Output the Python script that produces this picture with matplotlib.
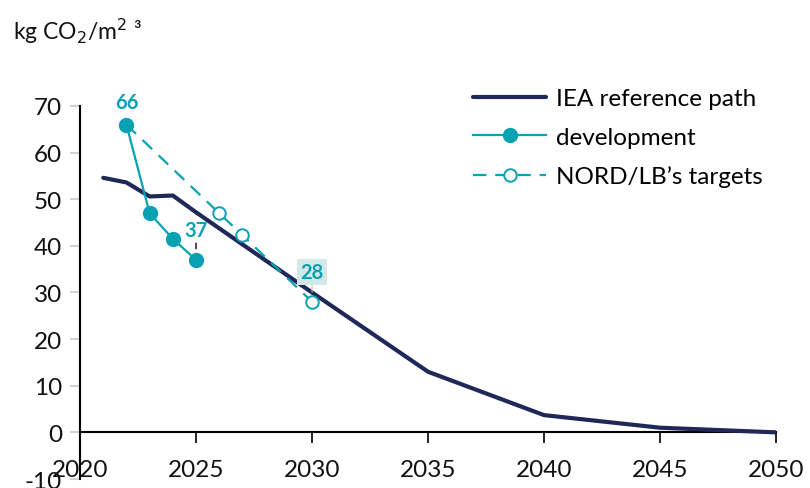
"""
NORD/LB emissions intensity vs. IEA reference path
"""
import matplotlib
matplotlib.use('Agg')
import matplotlib.pyplot as plt

plt.rcParams['font.family'] = ['Lato', 'DejaVu Sans']
plt.rcParams['axes.unicode_minus'] = False

NAVY = '#1f2858'
TEAL = '#0aa1b3'

# IEA reference path
iea_years = [2021, 2022, 2023, 2024, 2025, 2030, 2035, 2040, 2045, 2050]
iea_values = [54.6, 53.6, 50.6, 50.8, 47.2, 30.0, 13.0, 3.7, 1.0, 0.0]

# actual development
dev_years = [2022, 2023, 2024, 2025]
dev_values = [66, 47, 41.5, 37]

# NORD/LB's targets
target_years = [2022, 2026, 2027, 2030]
target_values = [66, 47, 42.3, 28]

x_ticks = [2020, 2025, 2030, 2035, 2040, 2045, 2050]
y_ticks = [-10, 0, 10, 20, 30, 40, 50, 60, 70]


def main():
    fig = plt.figure(figsize=(8.1, 4.89), dpi=100)
    ax = fig.add_axes([0.0988, 0.0184, 0.8593, 0.7628])

    ax.plot(iea_years, iea_values, color=NAVY, lw=3.0,
            solid_capstyle='round', solid_joinstyle='round',
            label='IEA reference path', zorder=3)
    ax.plot(target_years, target_values, color=TEAL, lw=1.6,
            dashes=(6, 4), marker='o', markersize=9,
            markerfacecolor='white', markeredgecolor=TEAL, markeredgewidth=1.4,
            label='NORD/LB\u2019s targets', zorder=4)
    ax.plot(dev_years, dev_values, color=TEAL, lw=1.6, marker='o',
            markersize=10, markerfacecolor=TEAL, markeredgecolor=TEAL,
            label='development', zorder=5)

    # data labels
    ax.annotate(f'{dev_values[0]:.0f}', (dev_years[0], dev_values[0]),
                xytext=(0, 9), textcoords='offset points', ha='center',
                va='bottom', color=TEAL, fontsize=14.5, fontweight='bold')
    ax.annotate(f'{dev_values[-1]:.0f}', (dev_years[-1], dev_values[-1]),
                xytext=(0, 14), textcoords='offset points', ha='center',
                va='bottom', color=TEAL, fontsize=14.5, fontweight='bold',
                arrowprops=dict(arrowstyle='-', color='black', lw=1.0,
                                shrinkA=0, shrinkB=8))
    ax.annotate(f'{target_values[-1]:.0f}', (target_years[-1], target_values[-1]),
                xytext=(0, 14), textcoords='offset points', ha='center',
                va='bottom', color=TEAL, fontsize=14.5, fontweight='bold',
                bbox=dict(boxstyle='square,pad=0.15', fc='#d3e9e7', ec='none'),
                arrowprops=dict(arrowstyle='-', color='#bbbbbb', lw=0.8,
                                shrinkA=0, shrinkB=7))

    ax.set_xlim(2020, 2050)
    ax.set_ylim(-10, 70)
    ax.set_xticks(x_ticks)
    ax.set_yticks(y_ticks)

    ax.spines['top'].set_visible(False)
    ax.spines['right'].set_visible(False)
    ax.spines['bottom'].set_position(('data', 0))
    ax.spines['bottom'].set_linewidth(1.5)
    ax.spines['left'].set_linewidth(1.5)

    ax.tick_params(axis='x', direction='out', length=8, width=1.2,
                   color='black', labelsize=17.5, pad=11)
    ax.tick_params(axis='y', direction='out', length=7, width=1.2,
                   color='#c8c8c8', labelsize=17.5, pad=6)
    for lbl in ax.get_xticklabels() + ax.get_yticklabels():
        lbl.set_color('#111111')

    fig.text(0.016, 0.935, 'kg CO$_2$/m$^2$ \u00b3', fontsize=16.5,
             ha='left', va='center', color='#111111')

    handles, labels = ax.get_legend_handles_labels()
    order = [0, 2, 1]
    fig.legend([handles[i] for i in order], [labels[i] for i in order],
               loc='upper left', bbox_to_anchor=(0.572, 0.837),
               frameon=False, fontsize=17.5, handlelength=3.0,
               handletextpad=0.4, labelspacing=0.72, borderaxespad=0)

    fig.savefig('out.png', dpi=100)


if __name__ == '__main__':
    main()
